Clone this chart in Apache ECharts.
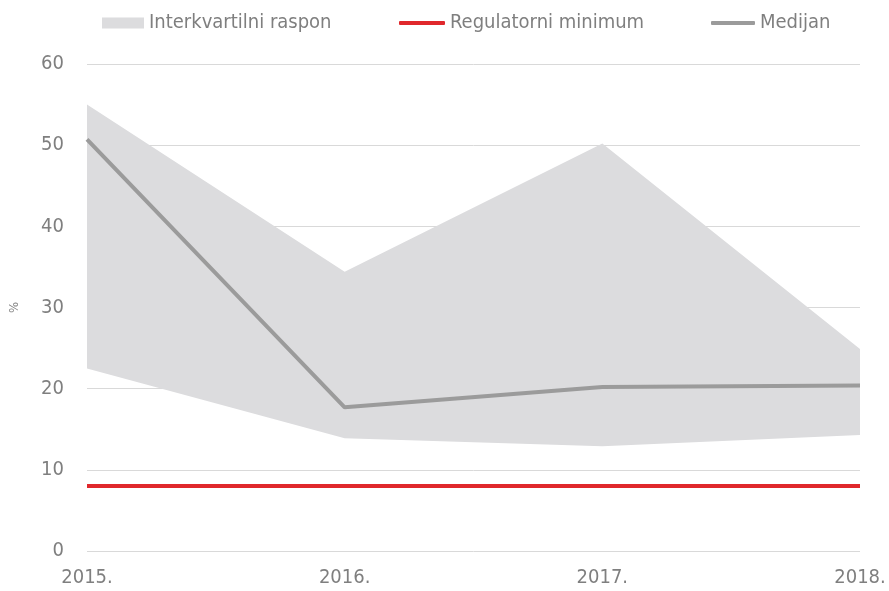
<!DOCTYPE html>
<html>
<head>
<meta charset="utf-8">
<script src="https://cdn.jsdelivr.net/npm/echarts@6/dist/echarts.min.js"></script>
<style>
  html, body { margin: 0; padding: 0; background: #fff; }
  #chart { width: 889px; height: 591px; }
</style>
</head>
<body>
<div id="chart"></div>
<script>
var years = ['2015.', '2016.', '2017.', '2018.'];
var q1 = [22.5, 13.9, 12.9, 14.3];     // donji kvartil
var q3 = [55.0, 34.4, 50.2, 24.9];     // gornji kvartil
var median = [50.7, 17.7, 20.2, 20.4];
var minimum = [8, 8, 8, 8];

var spread = q3.map(function (v, i) { return +(v - q1[i]).toFixed(2); });

var font = '"DejaVu Sans Condensed", sans-serif';
var textColor = '#7f7f7f';

var chart = echarts.init(document.getElementById('chart'));
var legendText = { color: textColor, fontSize: 20, fontFamily: font };

chart.setOption({
    animation: false,
    grid: { left: 85, right: 29, top: 64, bottom: 40 },
    legend: [
        { data: ['Interkvartilni raspon'], left: 97, top: 8, icon: 'rect', itemWidth: 42, itemHeight: 11, textStyle: legendText },
        { data: ['Regulatorni minimum'], left: 394, top: 8, icon: 'roundRect', itemWidth: 46, itemHeight: 4, textStyle: legendText },
        { data: ['Medijan'], left: 706, top: 8, icon: 'roundRect', itemWidth: 44, itemHeight: 4, textStyle: legendText }
    ],
    xAxis: {
        type: 'category',
        data: years,
        boundaryGap: false,
        axisLine: { show: false },
        axisTick: { show: false },
        axisLabel: { color: textColor, fontSize: 20, fontFamily: font, margin: 17 }
    },
    yAxis: {
        type: 'value',
        min: 0,
        max: 60,
        interval: 10,
        name: '%',
        nameLocation: 'middle',
        nameRotate: 90,
        nameGap: 66,
        nameTextStyle: { color: textColor, fontSize: 13, fontFamily: font },
        axisLine: { show: false },
        axisTick: { show: false },
        axisLabel: { color: textColor, fontSize: 20, fontFamily: font, margin: 23 },
        splitLine: { lineStyle: { color: '#d9d9d9', width: 1 } }
    },
    series: [
        {
            name: 'q1',
            type: 'line',
            stack: 'band',
            data: q1,
            symbol: 'none',
            lineStyle: { opacity: 0 },
            silent: true
        },
        {
            name: 'Interkvartilni raspon',
            type: 'line',
            stack: 'band',
            data: spread,
            symbol: 'none',
            itemStyle: { color: '#dcdcde' },
            lineStyle: { opacity: 0 },
            areaStyle: { color: '#dcdcde', opacity: 1 }
        },
        {
            name: 'Regulatorni minimum',
            type: 'line',
            data: minimum,
            symbol: 'none',
            itemStyle: { color: '#e0282c' },
            lineStyle: { color: '#e0282c', width: 4 }
        },
        {
            name: 'Medijan',
            type: 'line',
            data: median,
            symbol: 'none',
            itemStyle: { color: '#9b9b9b' },
            lineStyle: { color: '#9b9b9b', width: 4 }
        }
    ]
});
</script>
</body>
</html>
